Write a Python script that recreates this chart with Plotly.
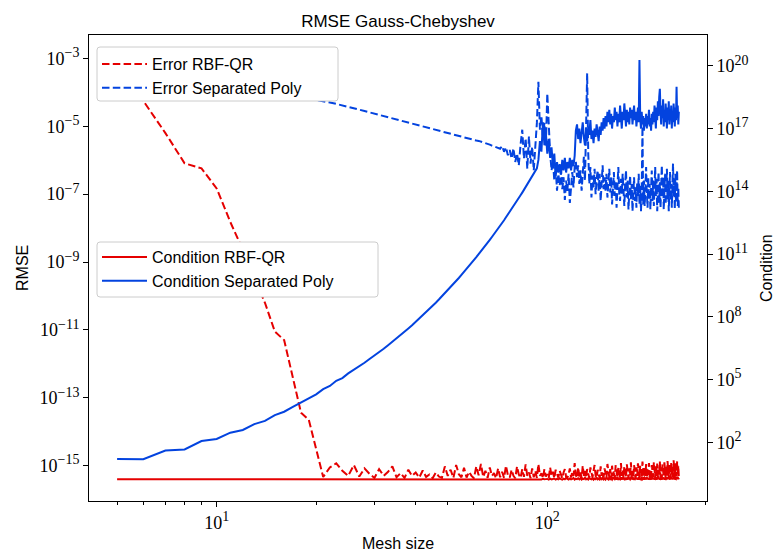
import numpy as np
import plotly.graph_objects as go

# Mesh sizes N = 5 ... 250
mesh_size = list(range(5, 251))

# log10 of RMSE, RBF-QR (one row per 10 mesh sizes, starting at N=5)
err_rbf_qr_log10 = [
    -3.35, -4.25, -5.20, -6.09, -6.24, -6.83, -7.82, -8.64, -9.47, -10.20,
    -11.05, -11.30, -12.40, -13.44, -13.65, -14.50, -15.33, -15.05, -14.93, -15.15,
    -15.30, -14.98, -15.32, -15.08, -15.24, -15.36, -15.10, -15.30, -15.18, -15.02,
    -15.34, -15.22, -15.36, -15.12, -15.30, -15.20, -15.35, -15.14, -15.33, -15.26,
    -15.37, -15.20, -15.32, -15.36, -15.02, -15.30, -15.12, -15.36, -14.98, -15.25,
    -15.34, -15.06, -15.35, -15.18, -15.30, -15.37, -15.02, -15.28, -14.95, -15.33,
    -15.15, -15.36, -15.05, -15.30, -15.22, -15.37, -15.08, -15.34, -15.18, -15.36,
    -15.00, -15.28, -15.35, -15.12, -15.30, -15.37, -15.02, -15.26, -15.36, -15.10,
    -15.33, -14.96, -15.30, -15.20, -15.37, -15.08, -15.34, -15.15, -15.36, -14.95,
    -15.30, -15.22, -15.37, -15.10, -15.32, -15.25, -15.36, -15.05, -15.30, -15.18,
    -15.37, -15.12, -15.28, -15.35, -15.15, -15.30, -15.37, -15.20, -15.10, -15.33,
    -15.36, -15.25, -15.08, -15.35, -15.18, -15.30, -14.92, -15.28, -15.36, -15.05,
    -15.32, -15.20, -15.37, -15.00, -15.30, -15.15, -15.35, -15.10, -15.28, -15.37,
    -15.05, -15.25, -15.34, -15.15, -14.98, -15.30, -15.36, -15.12, -15.26, -15.37,
    -15.02, -15.30, -15.18, -15.35, -15.08, -15.28, -15.36, -14.95, -15.22, -15.34,
    -15.10, -15.37, -15.00, -15.30, -15.15, -15.36, -14.98, -15.26, -15.35, -15.05,
    -15.20, -15.37, -14.92, -15.30, -15.12, -15.36, -15.02, -15.28, -15.35, -14.96,
    -15.22, -15.37, -15.08, -15.30, -14.90, -15.34, -15.15, -15.36, -14.98, -15.25,
    -15.37, -15.05, -15.30, -14.93, -15.20, -15.35, -15.00, -15.28, -15.37, -14.88,
    -15.18, -15.34, -15.06, -15.30, -14.95, -15.36, -15.10, -15.27, -14.92, -15.35,
    -15.15, -15.37, -14.98, -15.25, -15.33, -14.90, -15.20, -15.36, -15.02, -15.30,
    -14.94, -15.35, -15.12, -15.28, -14.88, -15.34, -15.05, -15.37, -14.96, -15.22,
    -15.33, -14.90, -15.18, -15.36, -15.00, -15.30, -14.86, -15.25, -15.35, -14.95,
    -15.15, -15.37, -14.92, -15.28, -15.04, -15.34, -14.84, -15.20, -15.36, -14.93,
    -15.10, -15.32, -14.87, -15.26, -15.00, -15.35,
]

# log10 of RMSE, separated polynomial basis
err_sep_poly_log10 = [
    -3.00, -3.20, -3.35, -3.48, -3.58, -3.67, -3.75, -3.82, -3.88, -3.94,
    -3.99, -4.04, -4.08, -4.13, -4.17, -4.21, -4.25, -4.30, -4.34, -4.38,
    -4.43, -4.47, -4.51, -4.55, -4.59, -4.63, -4.67, -4.70, -4.74, -4.77,
    -4.80, -4.83, -4.86, -4.89, -4.92, -4.95, -4.98, -5.00, -5.03, -5.05,
    -5.08, -5.10, -5.13, -5.15, -5.17, -5.20, -5.22, -5.24, -5.26, -5.28,
    -5.30, -5.32, -5.34, -5.36, -5.38, -5.40, -5.42, -5.43, -5.45, -5.47,
    -5.49, -5.52, -5.54, -5.57, -5.59, -5.62, -5.64, -5.66, -5.58, -5.75,
    -5.62, -5.85, -5.70, -5.95, -5.65, -6.05, -5.80, -6.15, -5.55, -5.10,
    -5.95, -5.35, -6.25, -5.30, -6.10, -5.60, -6.30, -5.50, -4.90, -3.69,
    -5.10, -4.70, -5.40, -4.90, -5.60, -4.03, -5.20, -5.80, -6.30, -6.00,
    -6.60, -6.20, -6.90, -6.40, -6.75, -6.30, -6.85, -6.50, -7.17, -6.60,
    -6.90, -6.40, -7.26, -6.70, -6.35, -6.80, -6.20, -6.05, -6.50, -6.15,
    -6.70, -6.30, -6.90, -6.40, -5.90, -6.60, -5.40, -3.44, -5.80, -6.70,
    -6.20, -7.10, -6.45, -6.80, -6.25, -7.00, -6.55, -6.30, -6.90, -6.40,
    -7.20, -6.60, -6.15, -6.85, -6.50, -6.90, -6.40, -7.10, -6.70, -6.25,
    -6.95, -6.50, -7.30, -6.80, -6.35, -7.05, -6.60, -7.40, -6.75, -6.20,
    -6.95, -7.20, -6.55, -7.00, -6.40, -6.85, -7.35, -6.70, -6.30, -7.10,
    -6.60, -7.45, -6.90, -6.45, -7.15, -6.70, -7.50, -6.95, -6.50, -7.20,
    -6.80, -7.40, -6.65, -7.05, -6.40, -7.30, -6.75, -7.50, -6.90, -5.00,
    -7.30, -6.60, -7.35, -6.85, -6.20, -6.95, -7.40, -6.50, -7.15, -6.70,
    -7.45, -6.85, -6.30, -7.20, -6.60, -7.35, -6.75, -6.20, -7.05, -6.55,
    -7.50, -6.90, -6.35, -7.25, -6.65, -7.40, -6.80, -6.15, -7.10, -6.50,
    -7.45, -6.95, -6.40, -7.30, -6.70, -6.25, -7.15, -6.60, -7.50, -6.85,
    -6.35, -7.20, -6.70, -7.40, -6.55, -6.10, -7.05, -6.75, -7.45, -6.40,
    -7.25, -6.90, -6.30, -7.35, -6.80, -7.45,
]

# log10 of condition number, RBF-QR
cond_rbf_qr_log10 = [
    0.24, 0.23, 0.24, 0.24, 0.24, 0.24, 0.23, 0.24, 0.24, 0.24,
    0.24, 0.24, 0.23, 0.24, 0.24, 0.24, 0.24, 0.23, 0.24, 0.24,
    0.24, 0.24, 0.24, 0.23, 0.24, 0.24, 0.24, 0.24, 0.24, 0.23,
    0.24, 0.24, 0.24, 0.24, 0.23, 0.24, 0.24, 0.24, 0.24, 0.24,
    0.23, 0.24, 0.24, 0.24, 0.24, 0.24, 0.23, 0.24, 0.24, 0.24,
    0.24, 0.24, 0.23, 0.24, 0.24, 0.24, 0.24, 0.24, 0.23, 0.24,
    0.24, 0.25, 0.24, 0.23, 0.24, 0.24, 0.25, 0.24, 0.24, 0.23,
    0.24, 0.25, 0.24, 0.24, 0.23, 0.25, 0.24, 0.24, 0.26, 0.24,
    0.23, 0.25, 0.24, 0.26, 0.24, 0.23, 0.25, 0.24, 0.26, 0.24,
    0.25, 0.23, 0.27, 0.24, 0.25, 0.26, 0.23, 0.27, 0.24, 0.25,
    0.28, 0.23, 0.26, 0.24, 0.29, 0.25, 0.23, 0.27, 0.24, 0.30,
    0.25, 0.23, 0.28, 0.24, 0.26, 0.31, 0.23, 0.27, 0.25, 0.29,
    0.24, 0.30, 0.23, 0.27, 0.25, 0.32, 0.24, 0.28, 0.23, 0.30,
    0.26, 0.24, 0.31, 0.23, 0.28, 0.25, 0.33, 0.24, 0.27, 0.23,
    0.30, 0.25, 0.32, 0.24, 0.28, 0.23, 0.31, 0.26, 0.24, 0.33,
    0.25, 0.29, 0.23, 0.32, 0.26, 0.24, 0.30, 0.23, 0.34, 0.25,
    0.28, 0.24, 0.33, 0.23, 0.30, 0.26, 0.24, 0.32, 0.25, 0.29,
    0.23, 0.34, 0.26, 0.24, 0.31, 0.25, 0.33, 0.23, 0.28, 0.25,
    0.32, 0.24, 0.30, 0.23, 0.34, 0.26, 0.28, 0.24, 0.33, 0.25,
    0.29, 0.23, 0.32, 0.26, 0.24, 0.34, 0.25, 0.30, 0.23, 0.33,
    0.26, 0.28, 0.24, 0.35, 0.25, 0.31, 0.23, 0.33, 0.26, 0.29,
    0.24, 0.34, 0.25, 0.31, 0.23, 0.36, 0.26, 0.28, 0.24, 0.33,
    0.25, 0.30, 0.23, 0.35, 0.26, 0.29, 0.24, 0.34, 0.25, 0.31,
    0.23, 0.36, 0.26, 0.30, 0.24, 0.33, 0.25, 0.35, 0.23, 0.29,
    0.26, 0.34, 0.24, 0.37, 0.25, 0.31,
]

# log10 of condition number, separated polynomial basis
cond_sep_poly_log10 = [
    1.21, 1.20, 1.62, 1.67, 2.07, 2.17, 2.47, 2.60, 2.88, 3.03,
    3.31, 3.47, 3.70, 3.90, 4.12, 4.30, 4.55, 4.70, 4.95, 5.08,
    5.30, 5.47, 5.65, 5.81, 5.99, 6.15, 6.32, 6.48, 6.65, 6.81,
    6.97, 7.13, 7.29, 7.45, 7.60, 7.76, 7.91, 8.07, 8.22, 8.38,
    8.53, 8.68, 8.83, 8.98, 9.13, 9.28, 9.43, 9.57, 9.72, 9.86,
    10.01, 10.15, 10.29, 10.44, 10.58, 10.72, 10.86, 11.00, 11.13, 11.27,
    11.41, 11.55, 11.68, 11.82, 11.95, 12.09, 12.22, 12.36, 12.49, 12.62,
    12.76, 12.89, 13.02, 13.15, 13.29, 13.42, 13.55, 13.68, 13.81, 13.94,
    14.07, 14.20, 14.33, 14.46, 14.59, 14.72, 14.85, 14.98, 15.10, 15.50,
    16.40, 15.90, 17.30, 16.20, 16.80, 15.80, 16.50, 15.60, 16.10, 15.20,
    15.80, 14.70, 15.40, 14.90, 15.30, 14.80, 15.50, 15.00, 15.60, 14.90,
    15.40, 15.10, 15.60, 15.00, 15.50, 15.20, 15.70, 16.90, 17.20, 16.50,
    17.00, 16.30, 16.80, 17.30, 16.60, 16.20, 16.90, 16.40, 17.10, 16.70,
    17.40, 16.50, 16.90, 16.30, 17.00, 16.60, 17.20, 16.80, 16.40, 17.10,
    16.70, 17.30, 16.90, 17.50, 17.00, 17.60, 17.10, 17.80, 17.30, 17.90,
    17.20, 17.70, 17.00, 17.60, 17.30, 18.00, 17.40, 17.80, 17.10, 17.70,
    17.30, 18.10, 17.50, 17.00, 17.80, 17.40, 18.20, 17.60, 17.10, 17.90,
    17.30, 17.80, 17.20, 18.00, 17.50, 17.90, 17.20, 17.70, 18.10, 17.40,
    17.80, 17.10, 17.60, 18.00, 17.30, 20.27, 17.50, 17.00, 17.80, 17.20,
    17.60, 16.90, 17.50, 17.10, 17.70, 17.00, 17.60, 17.20, 17.90, 17.10,
    17.50, 16.90, 17.70, 17.20, 17.80, 17.30, 18.10, 17.50, 17.00, 18.00,
    17.40, 18.30, 17.60, 18.50, 18.90, 17.80, 17.20, 18.10, 17.50, 18.40,
    17.10, 17.90, 17.30, 18.20, 17.60, 17.00, 18.00, 17.40, 18.30, 17.20,
    17.90, 17.50, 18.10, 17.00, 17.80, 17.30, 18.20, 17.60, 17.10, 18.00,
    17.40, 19.00, 17.50, 18.10, 17.20, 17.80,
]

for series in (err_rbf_qr_log10, err_sep_poly_log10, cond_rbf_qr_log10, cond_sep_poly_log10):
    assert len(series) == len(mesh_size), len(series)

err_rbf_qr = 10.0 ** np.array(err_rbf_qr_log10)
err_sep_poly = 10.0 ** np.array(err_sep_poly_log10)
cond_rbf_qr = 10.0 ** np.array(cond_rbf_qr_log10)
cond_sep_poly = 10.0 ** np.array(cond_sep_poly_log10)

RED = "#e50000"
BLUE = "#0343df"
DASH = "7.5px,3.3px"
LW = 2

SANS = "Liberation Sans, Arial, sans-serif"
SERIF = "Liberation Serif, Times New Roman, serif"

rmse_ticks = [-15, -13, -11, -9, -7, -5, -3]
cond_ticks = [2, 5, 8, 11, 14, 17, 20]
x_ticks = [1, 2]
x_minor = [5, 6, 7, 8, 9, 20, 30, 40, 50, 60, 70, 80, 90, 200, 300]


def pow_label(e):
    exp = str(e).replace("-", "\u2212")
    return "10<sup><span style='font-size:14px'>" + exp + "</span></sup>"


fig = go.Figure()

fig.add_trace(go.Scatter(
    x=mesh_size, y=err_rbf_qr, name="Error RBF-QR", mode="lines",
    line=dict(color=RED, width=LW, dash=DASH), legend="legend", yaxis="y"))
fig.add_trace(go.Scatter(
    x=mesh_size, y=err_sep_poly, name="Error Separated Poly", mode="lines",
    line=dict(color=BLUE, width=LW, dash=DASH), legend="legend", yaxis="y"))
fig.add_trace(go.Scatter(
    x=mesh_size, y=cond_rbf_qr, name="Condition RBF-QR", mode="lines",
    line=dict(color=RED, width=LW), legend="legend2", yaxis="y2"))
fig.add_trace(go.Scatter(
    x=mesh_size, y=cond_sep_poly, name="Condition Separated Poly", mode="lines",
    line=dict(color=BLUE, width=LW), legend="legend2", yaxis="y2"))

L, R, T, B = 89, 67, 35, 53
W, H = 774, 554
pw, ph = W - L - R, H - T - B


def px_x(px):
    return (px - L) / pw


def px_y(py):
    return 1 - (py - T) / ph


def legend_frame(left, top, right, bottom, r=3):
    """Rounded white box (paper coords) drawn under a legend."""
    x0, x1 = px_x(left), px_x(right)
    y0, y1 = px_y(bottom), px_y(top)
    rx, ry = r / pw, r / ph
    path = (f"M{x0 + rx},{y1} L{x1 - rx},{y1} Q{x1},{y1} {x1},{y1 - ry} "
            f"L{x1},{y0 + ry} Q{x1},{y0} {x1 - rx},{y0} "
            f"L{x0 + rx},{y0} Q{x0},{y0} {x0},{y0 + ry} "
            f"L{x0},{y1 - ry} Q{x0},{y1} {x0 + rx},{y1} Z")
    return dict(type="path", path=path, xref="paper", yref="paper",
                fillcolor="white", line=dict(color="#cccccc", width=1), layer="above")


axis_common = dict(
    showline=True, linecolor="black", linewidth=1, showgrid=False,
    zeroline=False, ticks="outside", tickcolor="black", tickwidth=1,
    ticklen=5, tickfont=dict(family=SERIF, size=18, color="black"),
)

legend_common = dict(
    xanchor="left", yanchor="top", bgcolor="rgba(0,0,0,0)", borderwidth=0,
    font=dict(family=SANS, size=16, color="black"), itemwidth=45,
)

fig.update_layout(
    width=W, height=H, autosize=False,
    margin=dict(l=L, r=R, t=T, b=B, pad=0),
    paper_bgcolor="white", plot_bgcolor="white",
    title=dict(text="RMSE Gauss-Chebyshev", x=(L + pw / 2) / W, xanchor="center",
               y=1 - 21 / H, yanchor="middle", yref="container",
               font=dict(family=SANS, size=17, color="black")),
    xaxis=dict(type="log", range=[0.614, 2.483], mirror=True,
               tickvals=[10 ** e for e in x_ticks],
               ticktext=[pow_label(e) for e in x_ticks],
               minor=dict(tickvals=x_minor, ticks="outside", ticklen=3,
                          tickcolor="black", tickwidth=1, showgrid=False),
               **axis_common),
    yaxis=dict(type="log", range=[-16.04, -2.31], mirror=True,
               tickvals=[10.0 ** e for e in rmse_ticks],
               ticktext=[pow_label(e) for e in rmse_ticks],
               **axis_common),
    yaxis2=dict(type="log", range=[-0.795, 21.47], overlaying="y", side="right",
                tickvals=[10.0 ** e for e in cond_ticks],
                ticktext=[pow_label(e) for e in cond_ticks],
                **axis_common),
    legend=dict(x=px_x(97), y=px_y(47), **legend_common),
    legend2=dict(x=px_x(97), y=px_y(240), **legend_common),
    shapes=[
        legend_frame(97, 47, 338, 101),
        legend_frame(97, 242, 378, 297),
    ],
    annotations=[
        dict(text="RMSE", xref="paper", yref="paper", x=px_x(22), y=0.5,
             textangle=-90, showarrow=False, xanchor="center", yanchor="middle",
             font=dict(family=SANS, size=16, color="black")),
        dict(text="Condition", xref="paper", yref="paper", x=px_x(766), y=0.5,
             textangle=-90, showarrow=False, xanchor="center", yanchor="middle",
             font=dict(family=SANS, size=16, color="black")),
        dict(text="Mesh size", xref="paper", yref="paper", x=0.5, y=px_y(543),
             showarrow=False, xanchor="center", yanchor="middle",
             font=dict(family=SANS, size=16, color="black")),
    ],
)

fig.write_html("out.html")
